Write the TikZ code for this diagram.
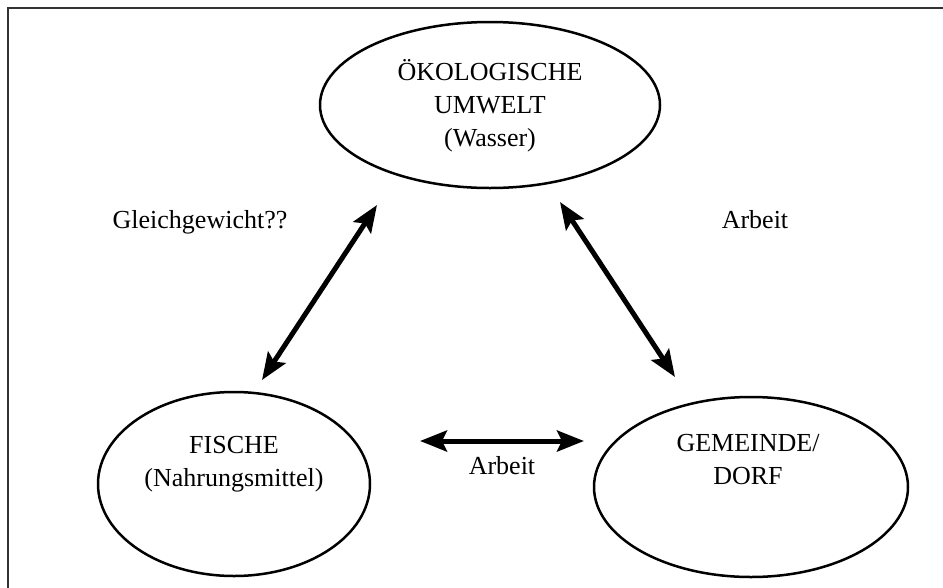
\documentclass[tikz,border=0pt]{standalone}
\usepackage{fontspec}
\setmainfont{Liberation Serif}
\usetikzlibrary{shapes.geometric,arrows.meta}
\tikzset{
  bubble/.style={ellipse,draw,line width=2.5pt,inner sep=0pt},
  lbl/.style={font=\fontsize{26}{33}\selectfont,align=center,inner sep=0pt},
  arr/.style={line width=5pt,{Stealth[length=27pt,width=21pt,inset=5pt]}-{Stealth[length=27pt,width=21pt,inset=5pt]}}
}
\begin{document}
\begin{tikzpicture}[x=1pt,y=-1pt]
\useasboundingbox (0,0) rectangle (943,587);
\draw[line width=1.5pt,black!80] (8,590) -- (8,8) -- (946,8);
\node[bubble,minimum width=340pt,minimum height=166pt] (umwelt) at (490,105) {};
\node[bubble,minimum width=272pt,minimum height=184pt] (fische) at (234,484) {};
\node[bubble,minimum width=314pt,minimum height=180pt] (dorf) at (751,487) {};
\node[lbl] (tumwelt) at (490,106) {ÖKOLOGISCHE\\UMWELT\\(Wasser)};
\node[lbl] (tfische) at (234,464) {FISCHE\\(Nahrungsmittel)};
\node[lbl] (tdorf) at (748,460) {GEMEINDE/\\DORF};
\node[lbl] (gleich) at (200,222) {Gleichgewicht??};
\node[lbl] (arb1) at (755,220) {Arbeit};
\node[lbl] (arb2) at (502,466) {Arbeit};
\draw[arr] ([shift={(28,-104)}]fische.center) -- ([shift={(-113,100)}]umwelt.center);
\draw[arr] ([shift={(70,97)}]umwelt.center) -- ([shift={(-76,-110)}]dorf.center);
\draw[arr] ([shift={(186,-43)}]fische.center) -- ([shift={(-167,-46)}]dorf.center);
\end{tikzpicture}
\end{document}
